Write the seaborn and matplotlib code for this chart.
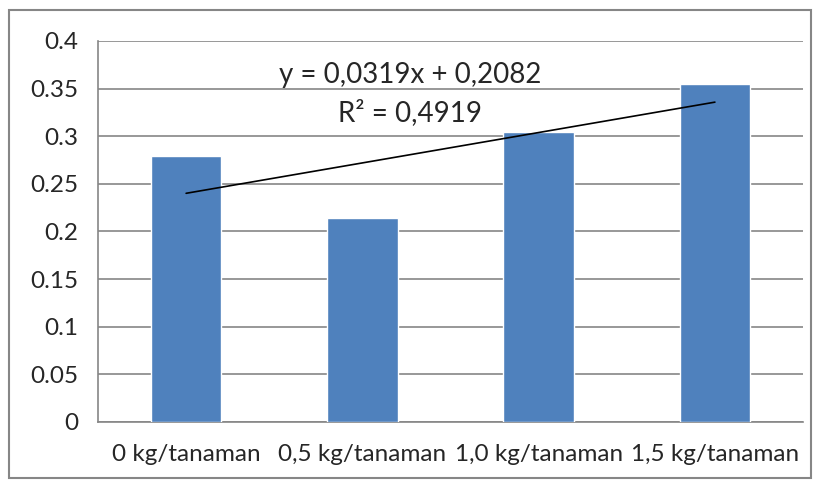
import matplotlib
matplotlib.use("Agg")
import matplotlib.pyplot as plt
from matplotlib.patches import Rectangle
import seaborn as sns
import pandas as pd
import numpy as np

# -----------------------------
# Data
# -----------------------------
categories = ["0 kg/tanaman", "0,5 kg/tanaman", "1,0 kg/tanaman", "1,5 kg/tanaman"]
values = [0.279, 0.214, 0.304, 0.355]
y_ticks = [0, 0.05, 0.1, 0.15, 0.2, 0.25, 0.3, 0.35, 0.4]
y_tick_labels = ["0", "0.05", "0.1", "0.15", "0.2", "0.25", "0.3", "0.35", "0.4"]
trend_slope = 0.0319
trend_intercept = 0.2082
trend_label = "y = 0,0319x + 0,2082"
r2_label = "R² = 0,4919"

df = pd.DataFrame({"kategori": categories, "nilai": values})

# -----------------------------
# Style
# -----------------------------
sns.set_style("white")
plt.rcParams['font.family'] = ['Lato', 'DejaVu Sans']
grid_col = "#868686"

fig = plt.figure(figsize=(8.18, 4.84), dpi=100)
ax = fig.add_axes([0.1198, 0.1281, 0.8619, 0.7872])

sns.barplot(data=df, x="kategori", y="nilai", color="#4F81BD", width=0.4,
            saturation=1, ax=ax, zorder=3)

# trendline (x = 1..4 in Excel terms)
xs = np.arange(len(categories))
ax.plot(xs, trend_slope * (xs + 1) + trend_intercept, color="black", lw=1.2, zorder=4)
ax.text(1.27, 0.364, trend_label, ha="center", va="center", fontsize=20, zorder=5)
ax.text(1.27, 0.325, r2_label, ha="center", va="center", fontsize=20, zorder=5)

# -----------------------------
# Axes
# -----------------------------
ax.set_ylim(0, 0.4)
ax.set_xlim(-0.5, len(categories) - 0.5)
ax.set_yticks(y_ticks)
ax.set_yticklabels(y_tick_labels, fontsize=17.5)
ax.set_xticks(xs)
ax.set_xticklabels(categories, fontsize=17.5)
ax.set_xticks(np.arange(len(categories) + 1) - 0.5, minor=True)
ax.tick_params(axis="x", which="major", length=0, pad=16)
ax.tick_params(axis="x", which="minor", length=8, color=grid_col, width=1.2)
ax.tick_params(axis="y", length=8, color=grid_col, width=1.2, pad=6)
ax.set_xlabel("")
ax.set_ylabel("")
ax.yaxis.grid(True, color=grid_col, lw=1.2, zorder=0)
ax.set_axisbelow(True)
sns.despine(ax=ax, top=True, right=True)
for s in ["left", "bottom"]:
    ax.spines[s].set_color(grid_col)
    ax.spines[s].set_linewidth(1.2)

# outer chart border
fig.patches.append(Rectangle((0.011, 0.012), 0.981, 0.968, transform=fig.transFigure,
                             fill=False, edgecolor=grid_col, lw=1.5))

plt.savefig("out.png", dpi=100)
